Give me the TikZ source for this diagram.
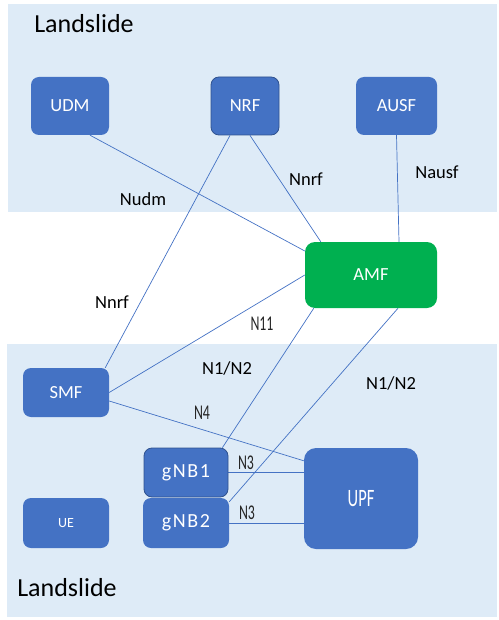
\documentclass[tikz,border=0pt]{standalone}
\usepackage{fontspec}
\setmainfont{Carlito}
\newfontfamily\condfont[FakeStretch=0.66]{Carlito}
\newfontfamily\spacedfont[LetterSpace=8]{Carlito}
\definecolor{bandblue}{HTML}{DEEBF7}
\definecolor{nfblue}{HTML}{4472C4}
\definecolor{nfedge}{HTML}{2F528F}
\definecolor{amfgreen}{HTML}{00B050}
\pgfdeclarelayer{bands}
\pgfdeclarelayer{links}
\pgfsetlayers{bands,links,main}

\begin{document}
\begin{tikzpicture}[x=1pt,y=-1pt]

    \tikzset{
      nf/.style={
        fill=nfblue,
        rounded corners=8pt,
        text=white,
        inner sep=0pt,
        font=\fontsize{18.5}{20}\selectfont,
      },
      nfedged/.style={nf, draw=nfedge, line width=0.8pt},
      iface/.style={draw=nfblue, line width=0.7pt},
      lbl/.style={inner sep=0pt, font=\fontsize{18.5}{20}\selectfont},
      condlbl/.style={inner sep=0pt, text=black!85, font=\condfont\fontsize{21}{23}\selectfont},
      zone/.style={inner sep=0pt, font=\fontsize{26}{28}\selectfont},
    }
    \useasboundingbox (0,0) rectangle (498,620);
    \begin{pgfonlayer}{bands}
	\fill[bandblue] (8,4) rectangle (497,212);
	\fill[bandblue] (7,344) rectangle (497,617);
    \end{pgfonlayer}

	% network functions
	\node[nf, minimum width=78pt, minimum height=58pt] (udm) at (70,106) {UDM};
	\node[nfedged, minimum width=68pt, minimum height=58pt] (nrf) at (245,106) {NRF};
	\node[nf, minimum width=81pt, minimum height=58pt] (ausf) at (396.5,106) {AUSF};
	\node[nf, fill=amfgreen, rounded corners=10pt, minimum width=132pt, minimum height=66pt] (amf) at (371,275) {AMF};
	\node[nf, minimum width=86pt, minimum height=49pt] (smf) at (66,392.5) {SMF};
	\node[nfedged, font=\spacedfont\fontsize{20}{22}\selectfont, minimum width=84pt, minimum height=49pt] (gnb1) at (186,472.5) {gNB1};
	\node[nf, font=\spacedfont\fontsize{20}{22}\selectfont, minimum width=86pt, minimum height=50pt] (gnb2) at (186,523) {gNB2};
	\node[nf, font=\fontsize{14}{16}\selectfont, minimum width=86pt, minimum height=50pt] (ue) at (66,523) {UE};
	\node[nf, rounded corners=12pt, font=\condfont\fontsize{25}{27}\selectfont, minimum width=114pt, minimum height=101pt] (upf) at (361,498.5) {UPF};

	% zone titles
	\node[zone] (topzone) at (84,24) {Landslide};
	\node[zone] (botzone) at (67,588) {Landslide};

    \begin{pgfonlayer}{links}
	\draw[iface] ([xshift=20pt]udm.south) -- ([yshift=24pt]amf.west);
	\draw[iface] ([xshift=-15pt]nrf.south) -- ([xshift=-4pt]smf.north east);
	\draw[iface] ([xshift=5pt]nrf.south) -- ([xshift=16pt]amf.north west);
	\draw[iface] (ausf.south) -- ([xshift=28pt]amf.north);
	\draw[iface] (smf.east) -- (amf.west);
	\draw[iface] ([xshift=9pt]amf.south west) -- ([xshift=-6pt]gnb1.north east);
	\draw[iface] ([xshift=27pt]amf.south) -- ([yshift=-4pt]gnb2.north east);
	\draw[iface] ([yshift=-8.5pt]smf.east) -- ([yshift=-13pt]upf.north west);
	\draw[iface] (gnb1.east) -- (gnb1.east -| upf.west);
	\draw[iface] (gnb2.east) -- (gnb2.east -| upf.west);
    \end{pgfonlayer}

	% interface labels
	\node[lbl] (nudm) at (143,199) {Nudm};
	\node[lbl] (nnrfup) at (306,179) {Nnrf};
	\node[lbl] (nausf) at (437,172) {Nausf};
	\node[lbl] (nnrflow) at (112,302) {Nnrf};
	\node[condlbl] (nelev) at (262,324) {N11};
	\node[lbl] (nngleft) at (227,368) {N1/N2};
	\node[lbl] (nngright) at (391,383) {N1/N2};
	\node[condlbl] (nfour) at (202,413) {N4};
	\node[condlbl] (nthreeup) at (246,463) {N3};
	\node[condlbl] (nthreelow) at (247,513) {N3};

\end{tikzpicture}
\end{document}
